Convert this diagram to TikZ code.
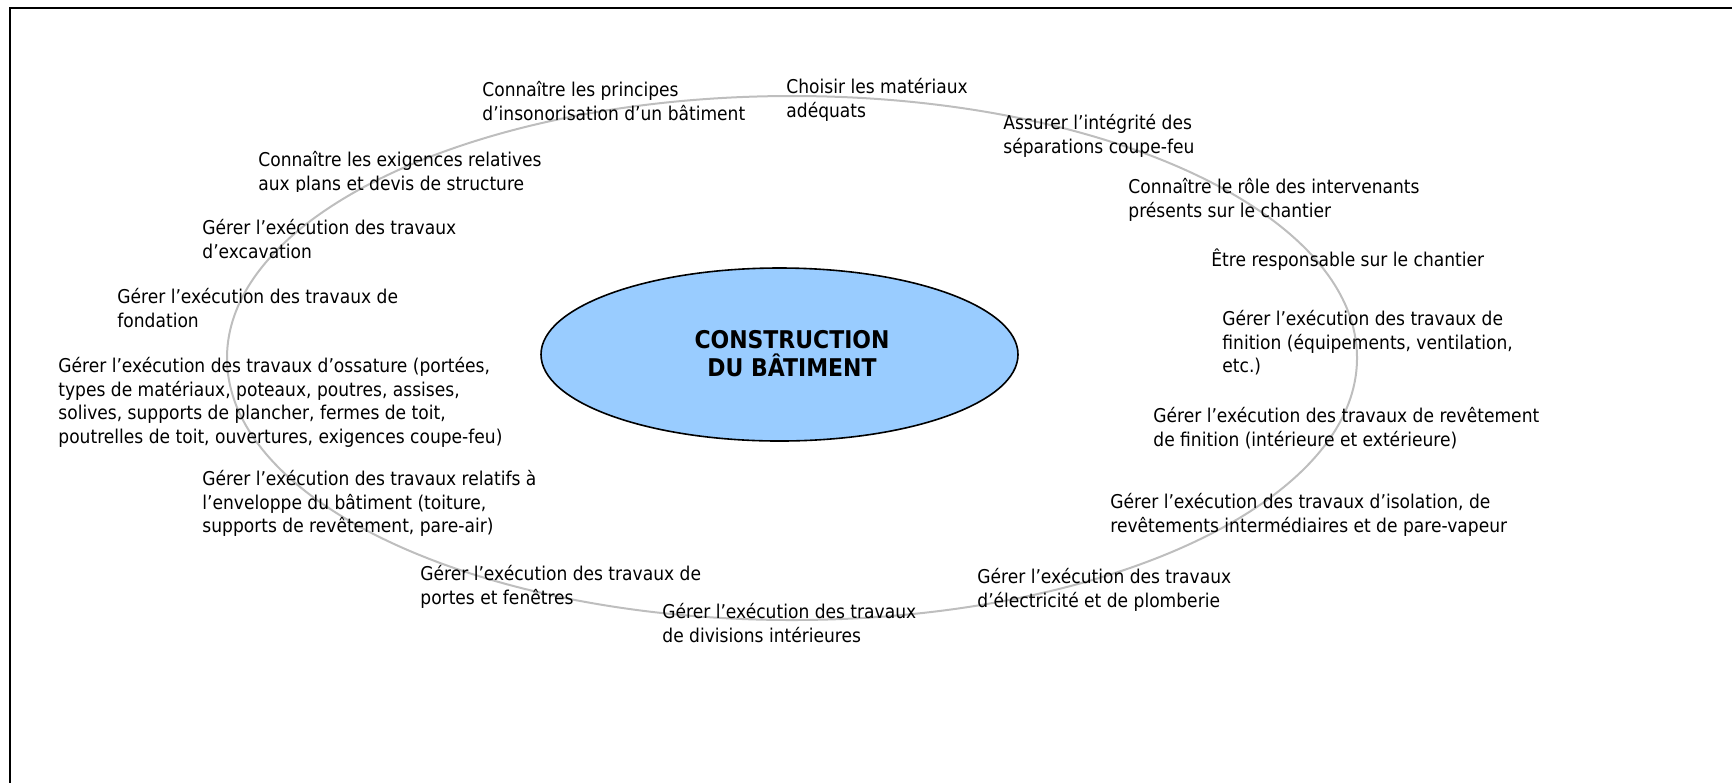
\documentclass[tikz,border=0pt]{standalone}
\usepackage{fontspec}
\setmainfont{DejaVu Sans}[FakeStretch=0.9]
\usetikzlibrary{shapes.geometric}
\definecolor{ringgray}{HTML}{BEBEBE}
\definecolor{hubblue}{HTML}{99CCFF}
\begin{document}
\begin{tikzpicture}[x=0.5pt,y=-0.5pt,
  lbl/.style={anchor=north west,inner sep=0pt,align=left,font=\fontsize{9.5}{11.75}\selectfont},
  ring/.style={draw=ringgray,line width=1pt},
  hubstyle/.style={draw=black,line width=0.8pt,fill=hubblue,ellipse,inner sep=0pt,minimum width=238.5pt,minimum height=86.5pt},
  title/.style={align=center,inner sep=0pt,font=\fontsize{12.2}{14}\selectfont\bfseries}
]
\useasboundingbox (0,0) rectangle (1732,783);
\draw[line width=1pt] (1732,8) -- (10,8) -- (10,783);
\draw[ring] (792,358) ellipse [x radius=565, y radius=262];
\node[hubstyle] (hub) at (779.5,354.5) {};
\node[title] (ttl) at (792,354) {CONSTRUCTION\\DU BÂTIMENT};
\node[lbl] (n1) at (482,80) {\strut Connaître les principes\\d’insonorisation d’un bâtiment};
\node[lbl] (n2) at (786,77) {\strut Choisir les matériaux\\adéquats};
\node[lbl] (n3) at (1003,113) {\strut Assurer l’intégrité des\\séparations coupe-feu};
\node[lbl] (n4) at (1128,177) {\strut Connaître le rôle des intervenants\\présents sur le chantier};
\node[lbl] (n5) at (1211,248) {\strut Être responsable sur le chantier};
\node[lbl] (n6) at (1222,309) {\strut Gérer l’exécution des travaux de\\finition (équipements, ventilation,\\etc.)};
\node[lbl] (n7) at (1153,406) {\strut Gérer l’exécution des travaux de revêtement\\de finition (intérieure et extérieure)};
\node[lbl] (n8) at (1110,492) {\strut Gérer l’exécution des travaux d’isolation, de\\revêtements intermédiaires et de pare-vapeur};
\node[lbl] (n9) at (977,567) {\strut Gérer l’exécution des travaux\\d’électricité et de plomberie};
\node[lbl] (n10) at (662,602) {\strut Gérer l’exécution des travaux\\de divisions intérieures};
\node[lbl] (n11) at (420,564) {\strut Gérer l’exécution des travaux de\\portes et fenêtres};
\node[lbl] (n12) at (202,469) {\strut Gérer l’exécution des travaux relatifs à\\l’enveloppe du bâtiment (toiture,\\supports de revêtement, pare-air)};
\node[lbl] (n13) at (58,356) {\strut Gérer l’exécution des travaux d’ossature (portées,\\types de matériaux, poteaux, poutres, assises,\\solives, supports de plancher, fermes de toit,\\poutrelles de toit, ouvertures, exigences coupe-feu)};
\node[lbl] (n14) at (117,287) {\strut Gérer l’exécution des travaux de\\fondation};
\node[lbl] (n15) at (202,218) {\strut Gérer l’exécution des travaux\\d’excavation};
\begin{scope}
\clip (250,140) rectangle (600,191);
\node[lbl] (n16) at (258,150) {\strut Connaître les exigences relatives\\aux plans et devis de structure};
\end{scope}
\end{tikzpicture}
\end{document}
